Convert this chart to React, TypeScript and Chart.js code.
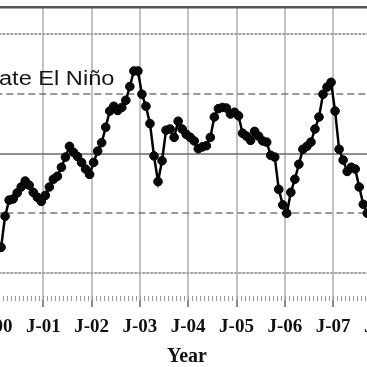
import React, { useEffect, useRef } from "react";
import { Chart, registerables } from "chart.js";

Chart.register(...registerables);

// Monthly index values, starting January 2000
const START_YEAR = 2000;
const indexValues = [
  -1.6, -1.57, -1.05, -0.78, -0.76, -0.66, -0.56, -0.46, -0.53, -0.65, -0.73, -0.8,
  -0.7, -0.56, -0.43, -0.38, -0.23, -0.06, 0.12, 0.02, -0.05, -0.15, -0.26, -0.35,
  -0.15, 0.04, 0.18, 0.44, 0.71, 0.79, 0.72, 0.77, 0.89, 1.12, 1.38, 1.38,
  0.99, 0.79, 0.5, -0.04, -0.47, -0.12, 0.39, 0.41, 0.27, 0.54, 0.41, 0.32,
  0.27, 0.21, 0.08, 0.11, 0.13, 0.27, 0.61, 0.75, 0.77, 0.76, 0.66, 0.69,
  0.63, 0.34, 0.29, 0.22, 0.37, 0.29, 0.21, 0.19, -0.03, -0.06, -0.6, -0.86,
  -1.0, -0.65, -0.43, -0.18, 0.07, 0.12, 0.19, 0.41, 0.61, 0.99, 1.11, 1.19,
  0.71, 0.07, -0.11, -0.3, -0.23, -0.26, -0.56, -0.85, -1.0,
];

// Year ticks (months since Jan 2000)
const yearTickMonths = [-24, -12, 0, 12, 24, 36, 48, 60, 72, 84, 96, 108, 120];
// Threshold reference levels
const referenceLevels = [2, 1, 0, -1, -2];
const annotationText = "Moderate El Niño";
const annotationAnchor = { month: 29.66, value: 1.142 };
const xAxisTitle = "Year";

const X_MIN = -30;
const X_MAX = 125.4;
const Y_MIN = -2.45;
const Y_MAX = 2.45;

const serif = '"Liberation Serif", "Times New Roman", serif';

const decorPlugin = {
  id: "decor",
  beforeDatasetsDraw(chart: any) {
    const { ctx, chartArea, scales } = chart;
    const xs = scales.x;
    const ys = scales.y;
    ctx.save();
    // reference lines
    ctx.beginPath();
    ctx.rect(chartArea.left, chartArea.top, chartArea.right - chartArea.left, chartArea.bottom - chartArea.top);
    ctx.clip();
    referenceLevels.forEach((v) => {
      const py = Math.round(ys.getPixelForValue(v));
      ctx.beginPath();
      if (Math.abs(v) === 2) {
        ctx.strokeStyle = "#a2a2a2";
        ctx.lineWidth = 2;
        ctx.setLineDash([3, 1]);
      } else if (Math.abs(v) === 1) {
        ctx.strokeStyle = "#7a7a7a";
        ctx.lineWidth = 1.5;
        ctx.setLineDash([7, 4]);
      } else {
        ctx.strokeStyle = "#6a6a6a";
        ctx.lineWidth = 1.6;
        ctx.setLineDash([]);
      }
      ctx.moveTo(chartArea.left, py);
      ctx.lineTo(chartArea.right, py);
      ctx.stroke();
    });
    ctx.setLineDash([]);
    // annotation text
    const ax = xs.getPixelForValue(annotationAnchor.month);
    const ay = ys.getPixelForValue(annotationAnchor.value);
    ctx.save();
    ctx.translate(ax, ay);
    ctx.scale(1.18, 1);
    ctx.font = '20px "Liberation Sans", Arial, sans-serif';
    ctx.fillStyle = "#151515";
    ctx.textAlign = "right";
    ctx.textBaseline = "alphabetic";
    ctx.fillText(annotationText, 0, 0);
    ctx.restore();
    ctx.restore();

    // minor monthly ticks
    ctx.save();
    ctx.strokeStyle = "#9a9a9a";
    ctx.lineWidth = 1;
    for (let m = Math.ceil(X_MIN); m <= Math.floor(X_MAX); m++) {
      const px = Math.round(xs.getPixelForValue(m)) + 0.5;
      ctx.beginPath();
      ctx.moveTo(px, chartArea.bottom - 4);
      ctx.lineTo(px, chartArea.bottom + 1);
      ctx.stroke();
    }
    // top frame
    ctx.strokeStyle = "#555";
    ctx.lineWidth = 2.5;
    ctx.beginPath();
    ctx.moveTo(chartArea.left, chartArea.top + 0.3);
    ctx.lineTo(chartArea.right, chartArea.top + 0.3);
    ctx.stroke();
    ctx.restore();
  },
};

export default function App() {
  const canvasRef = useRef<HTMLCanvasElement | null>(null);

  useEffect(() => {
    if (!canvasRef.current) return;
    const chart = new Chart(canvasRef.current, {
      type: "line",
      data: {
        datasets: [
          {
            data: indexValues.map((v, i) => ({ x: i + 0.5, y: v })),
            borderColor: "#000",
            borderWidth: 2.5,
            backgroundColor: "#000",
            pointRadius: 4.3,
            pointBorderWidth: 1,
            pointBorderColor: "#000",
            pointBackgroundColor: "#0a0a0a",
            tension: 0,
          },
        ],
      },
      options: {
        animation: false,
        responsive: false,
        maintainAspectRatio: false,
        layout: { padding: { top: 7, left: 0, right: 0, bottom: 0 } },
        plugins: {
          legend: { display: false },
          tooltip: { enabled: false },
        },
        scales: {
          x: {
            type: "linear",
            min: X_MIN,
            max: X_MAX,
            afterBuildTicks: (s: any) => {
              s.ticks = yearTickMonths.map((v) => ({ value: v }));
            },
            afterFit: (s: any) => {
              s.height = 67;
            },
            grid: {
              color: "#c2c2c2",
              lineWidth: 2,
              tickLength: 7,
              tickColor: "#8a8a8a",
              tickWidth: 2,
            },
            border: { display: false },
            ticks: {
              autoSkip: false,
              maxRotation: 0,
              padding: 9,
              color: "#111",
              font: { family: serif, size: 19, weight: "bold" },
              callback: (v: any) => {
                const yr = START_YEAR + Math.round(Number(v) / 12);
                const yy = ((yr % 100) + 100) % 100;
                return "J-" + String(yy).padStart(2, "0");
              },
            },
            title: {
              display: true,
              text: xAxisTitle,
              color: "#111",
              font: { family: serif, size: 20, weight: "bold", lineHeight: 1 },
              padding: { top: 0, bottom: 0 },
            },
          },
          y: {
            display: false,
            min: Y_MIN,
            max: Y_MAX,
          },
        },
      },
      plugins: [decorPlugin],
    } as any);
    return () => chart.destroy();
  }, []);

  return (
    <div
      style={{
        position: "fixed",
        left: 0,
        top: 0,
        width: 367,
        height: 367,
        overflow: "hidden",
        background: "#fff",
      }}
    >
      <canvas
        ref={canvasRef}
        width={636}
        height={367}
        style={{ position: "absolute", left: -131, top: 0, width: 636, height: 367 }}
      />
    </div>
  );
}
